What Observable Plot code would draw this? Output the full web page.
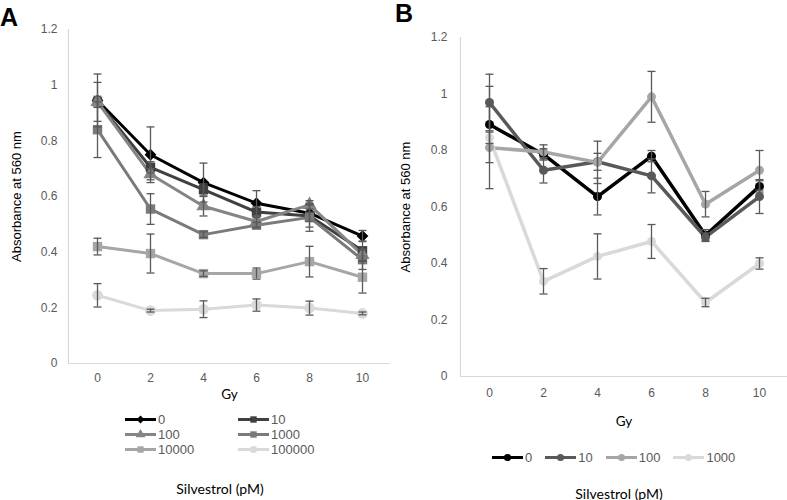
<!DOCTYPE html>
<html>
<head>
<meta charset="utf-8">
<script src="https://cdn.jsdelivr.net/npm/d3@7"></script>
<script src="https://cdn.jsdelivr.net/npm/@observablehq/plot@0.6"></script>
<style>
  html, body { margin: 0; padding: 0; background: #fff; }
  #root { position: relative; width: 787px; height: 500px; overflow: hidden; font-family: "Liberation Sans", Arial, sans-serif; }
  .abs { position: absolute; }
  .panel-letter { font-weight: bold; font-size: 25px; line-height: 1; color: #000; }
  .title2 { font-family: Lato, "Open Sans", sans-serif; font-size: 14px; color: #000; transform: translate(-50%, -50%); white-space: nowrap; }
  .leg { font-size: 13px; color: #595959; font-family: "Liberation Sans", Arial, sans-serif; }
  .leg .item { display: flex; align-items: center; height: 15px; }
  .leg svg { display: block; }
</style>
</head>
<body>
<div id="root"></div>
<script>
// ---------- data ----------
const gy = [0, 2, 4, 6, 8, 10];
const yTicks = [0, 0.2, 0.4, 0.6, 0.8, 1.0, 1.2];

// Panel A
const seriesA = ["0", "10", "100", "1000", "10000", "100000"];
const colorsA = ["#000000", "#404040", "#858585", "#7a7a7a", "#a6a6a6", "#d9d9d9"];
const symbolsA = ["diamond2", "square", "triangle", "square", "square", "circle"];
const a0      = [0.945, 0.75, 0.65, 0.576, 0.54, 0.458];
const a10     = [0.94, 0.705, 0.625, 0.544, 0.53, 0.405];
const a100    = [0.94, 0.68, 0.565, 0.51, 0.57, 0.39];
const a1000   = [0.84, 0.555, 0.463, 0.497, 0.525, 0.373];
const a10000  = [0.42, 0.395, 0.323, 0.323, 0.366, 0.31];
const a100000 = [0.245, 0.19, 0.195, 0.21, 0.199, 0.18];
const a0Err      = [0.095, 0.10, 0.07, 0.045, 0.03, 0.02];
const a10Err     = [0.07, 0.02, 0.02, 0.02, 0.04, 0.035];
const a100Err    = [0.02, 0.02, 0.035, 0.02, 0.015, 0.02];
const a1000Err   = [0.10, 0.055, 0.01, 0.01, 0.05, 0.035];
const a10000Err  = [0.03, 0.07, 0.01, 0.02, 0.055, 0.057];
const a100000Err = [0.042, 0.005, 0.03, 0.022, 0.025, 0.005];

// Panel B
const seriesB = ["0", "10", "100", "1000"];
const colorsB = ["#000000", "#595959", "#a6a6a6", "#d9d9d9"];
const b0    = [0.892, 0.786, 0.637, 0.78, 0.50, 0.673];
const b10   = [0.97, 0.73, 0.76, 0.71, 0.493, 0.637];
const b100  = [0.81, 0.795, 0.758, 0.99, 0.61, 0.73];
const b1000 = [0.845, 0.337, 0.425, 0.478, 0.262, 0.40];
const b0Err    = [0.135, 0.02, 0.065, 0.02, 0.02, 0.02];
const b10Err   = [0.10, 0.045, 0.03, 0.06, 0.015, 0.06];
const b100Err  = [0.145, 0.025, 0.075, 0.09, 0.045, 0.07];
const b1000Err = [0.02, 0.045, 0.08, 0.06, 0.015, 0.02];

// ---------- tables ----------
function makeRows(keys, vals, errs) {
  return keys.flatMap((k, i) => gy.map((g, j) => ({k, gy: g, v: vals[i][j], e: errs[i][j]})));
}
const rowsA = makeRows(seriesA, [a0, a10, a100, a1000, a10000, a100000],
                       [a0Err, a10Err, a100Err, a1000Err, a10000Err, a100000Err]);
const rowsB = makeRows(seriesB, [b0, b10, b100, b1000], [b0Err, b10Err, b100Err, b1000Err]);

const capSymbol = { draw(ctx) { ctx.moveTo(-4, 0); ctx.lineTo(4, 0); } };
const fmt = d => String(+d.toFixed(1));

function panel(rows, keys, colors, symbols, cfg) {
  const p = Plot.plot({
    width: cfg.width, height: cfg.height,
    marginLeft: cfg.marginLeft, marginRight: cfg.marginRight,
    marginTop: cfg.marginTop, marginBottom: cfg.height - cfg.zeroY,
    style: {fontFamily: '"Liberation Sans", Arial, sans-serif', fontSize: "12px", color: "#595959", background: "transparent", overflow: "visible"},
    x: {type: "point", domain: gy, padding: 0.5, tickSize: 0, tickPadding: cfg.xPad,
        label: "Gy", labelAnchor: "center", labelOffset: cfg.xLabelOffset, labelArrow: "none"},
    y: {domain: [0, 1.2], ticks: yTicks, tickFormat: fmt, tickSize: 0, tickPadding: cfg.yPad,
        label: "Absorbance at 560 nm", labelAnchor: "center", labelOffset: cfg.yLabelOffset, labelArrow: "none"},
    color: {domain: keys, range: colors},
    symbol: {domain: keys, range: symbols},
    marks: [
      Plot.ruleY([0], {stroke: "#d9d9d9", strokeWidth: 1.2}),
      Plot.frame({anchor: "left", stroke: "#d9d9d9", strokeWidth: 1.2}),
      Plot.line(rows, {x: "gy", y: "v", z: "k", stroke: "k", strokeWidth: cfg.lineWidth}),
      Plot.dot(rows, {x: "gy", y: "v", symbol: "k", fill: "k", r: cfg.r}),
      Plot.ruleX(rows, {x: "gy", y1: d => d.v - d.e, y2: d => d.v + d.e, stroke: "#595959", strokeWidth: 1.3}),
      Plot.dot(rows, {x: "gy", y: d => d.v + d.e, symbol: capSymbol, stroke: "#595959", strokeWidth: 1.3}),
      Plot.dot(rows, {x: "gy", y: d => d.v - d.e, symbol: capSymbol, stroke: "#595959", strokeWidth: 1.3})
    ]
  });
  const s = d3.select(p);
  const stripArrow = function () { return this.textContent.replace(/\s*[↑↓→←]\s*/g, " ").trim(); };
  s.selectAll('[aria-label="y-axis label"]').attr("fill", "#000").style("font-size", "13px")
    .selectAll("text").text(stripArrow);
  s.selectAll('[aria-label="x-axis label"]').attr("fill", "#000")
    .style("font-family", 'Lato, "Open Sans", sans-serif').style("font-size", "13.5px")
    .selectAll("text").text(stripArrow);
  return p;
}

const root = document.getElementById("root");
function place(el, left, top) { el.classList.add("abs"); el.style.left = left + "px"; el.style.top = top + "px"; root.appendChild(el); return el; }

const plotA = panel(rowsA, seriesA, colorsA, symbolsA,
  {width: 395, height: 410, marginLeft: 68, marginRight: 5, marginTop: 29, zeroY: 363,
   xPad: 10, yPad: 11, xLabelOffset: 35, yLabelOffset: 57, lineWidth: 3, r: 5.3});
place(plotA, 0, 0);

const plotB = panel(rowsB, seriesB, colorsB, seriesB.map(() => "circle"),
  {width: 395, height: 430, marginLeft: 68, marginRight: 0, marginTop: 37, zeroY: 376,
   xPad: 12, yPad: 13, xLabelOffset: 49, yLabelOffset: 60, lineWidth: 3.5, r: 4.5});
place(plotB, 392, 0);

// panel letters and legend titles
function textDiv(cls, txt) { const d = document.createElement("div"); d.className = cls; d.textContent = txt; return d; }
place(textDiv("panel-letter", "A"), 0, 5);
place(textDiv("panel-letter", "B"), 395, 1);
place(textDiv("title2", "Silvestrol (pM)"), 220, 488);
place(textDiv("title2", "Silvestrol (pM)"), 619, 493);

// legends
function legendItem(key, color, sym, r) {
  const item = document.createElement("div"); item.className = "item";
  const svg = d3.create("svg").attr("width", 32).attr("height", 15);
  svg.append("line").attr("x1", 0).attr("x2", 31).attr("y1", 7.5).attr("y2", 7.5)
    .attr("stroke", color).attr("stroke-width", 3);
  const symMap = {circle: d3.symbolCircle, square: d3.symbolSquare, triangle: d3.symbolTriangle, diamond2: d3.symbolDiamond2};
  svg.append("path").attr("transform", "translate(15.5,7.5)")
    .attr("d", d3.symbol(symMap[sym], Math.PI * r * r)()).attr("fill", color);
  item.appendChild(svg.node());
  const t = document.createElement("span"); t.textContent = key; t.style.marginLeft = "1px";
  item.appendChild(t);
  return item;
}
const legA = document.createElement("div"); legA.className = "leg";
legA.style.display = "grid"; legA.style.gridTemplateColumns = "113px 120px";
seriesA.forEach((k, i) => legA.appendChild(legendItem(k, colorsA[i], symbolsA[i], 3.6)));
place(legA, 125, 412);

const legB = document.createElement("div"); legB.className = "leg";
legB.style.display = "flex"; legB.style.gap = "13px";
seriesB.forEach((k, i) => legB.appendChild(legendItem(k, colorsB[i], "circle", 3.6)));
place(legB, 492, 450);
</script>
</body>
</html>
